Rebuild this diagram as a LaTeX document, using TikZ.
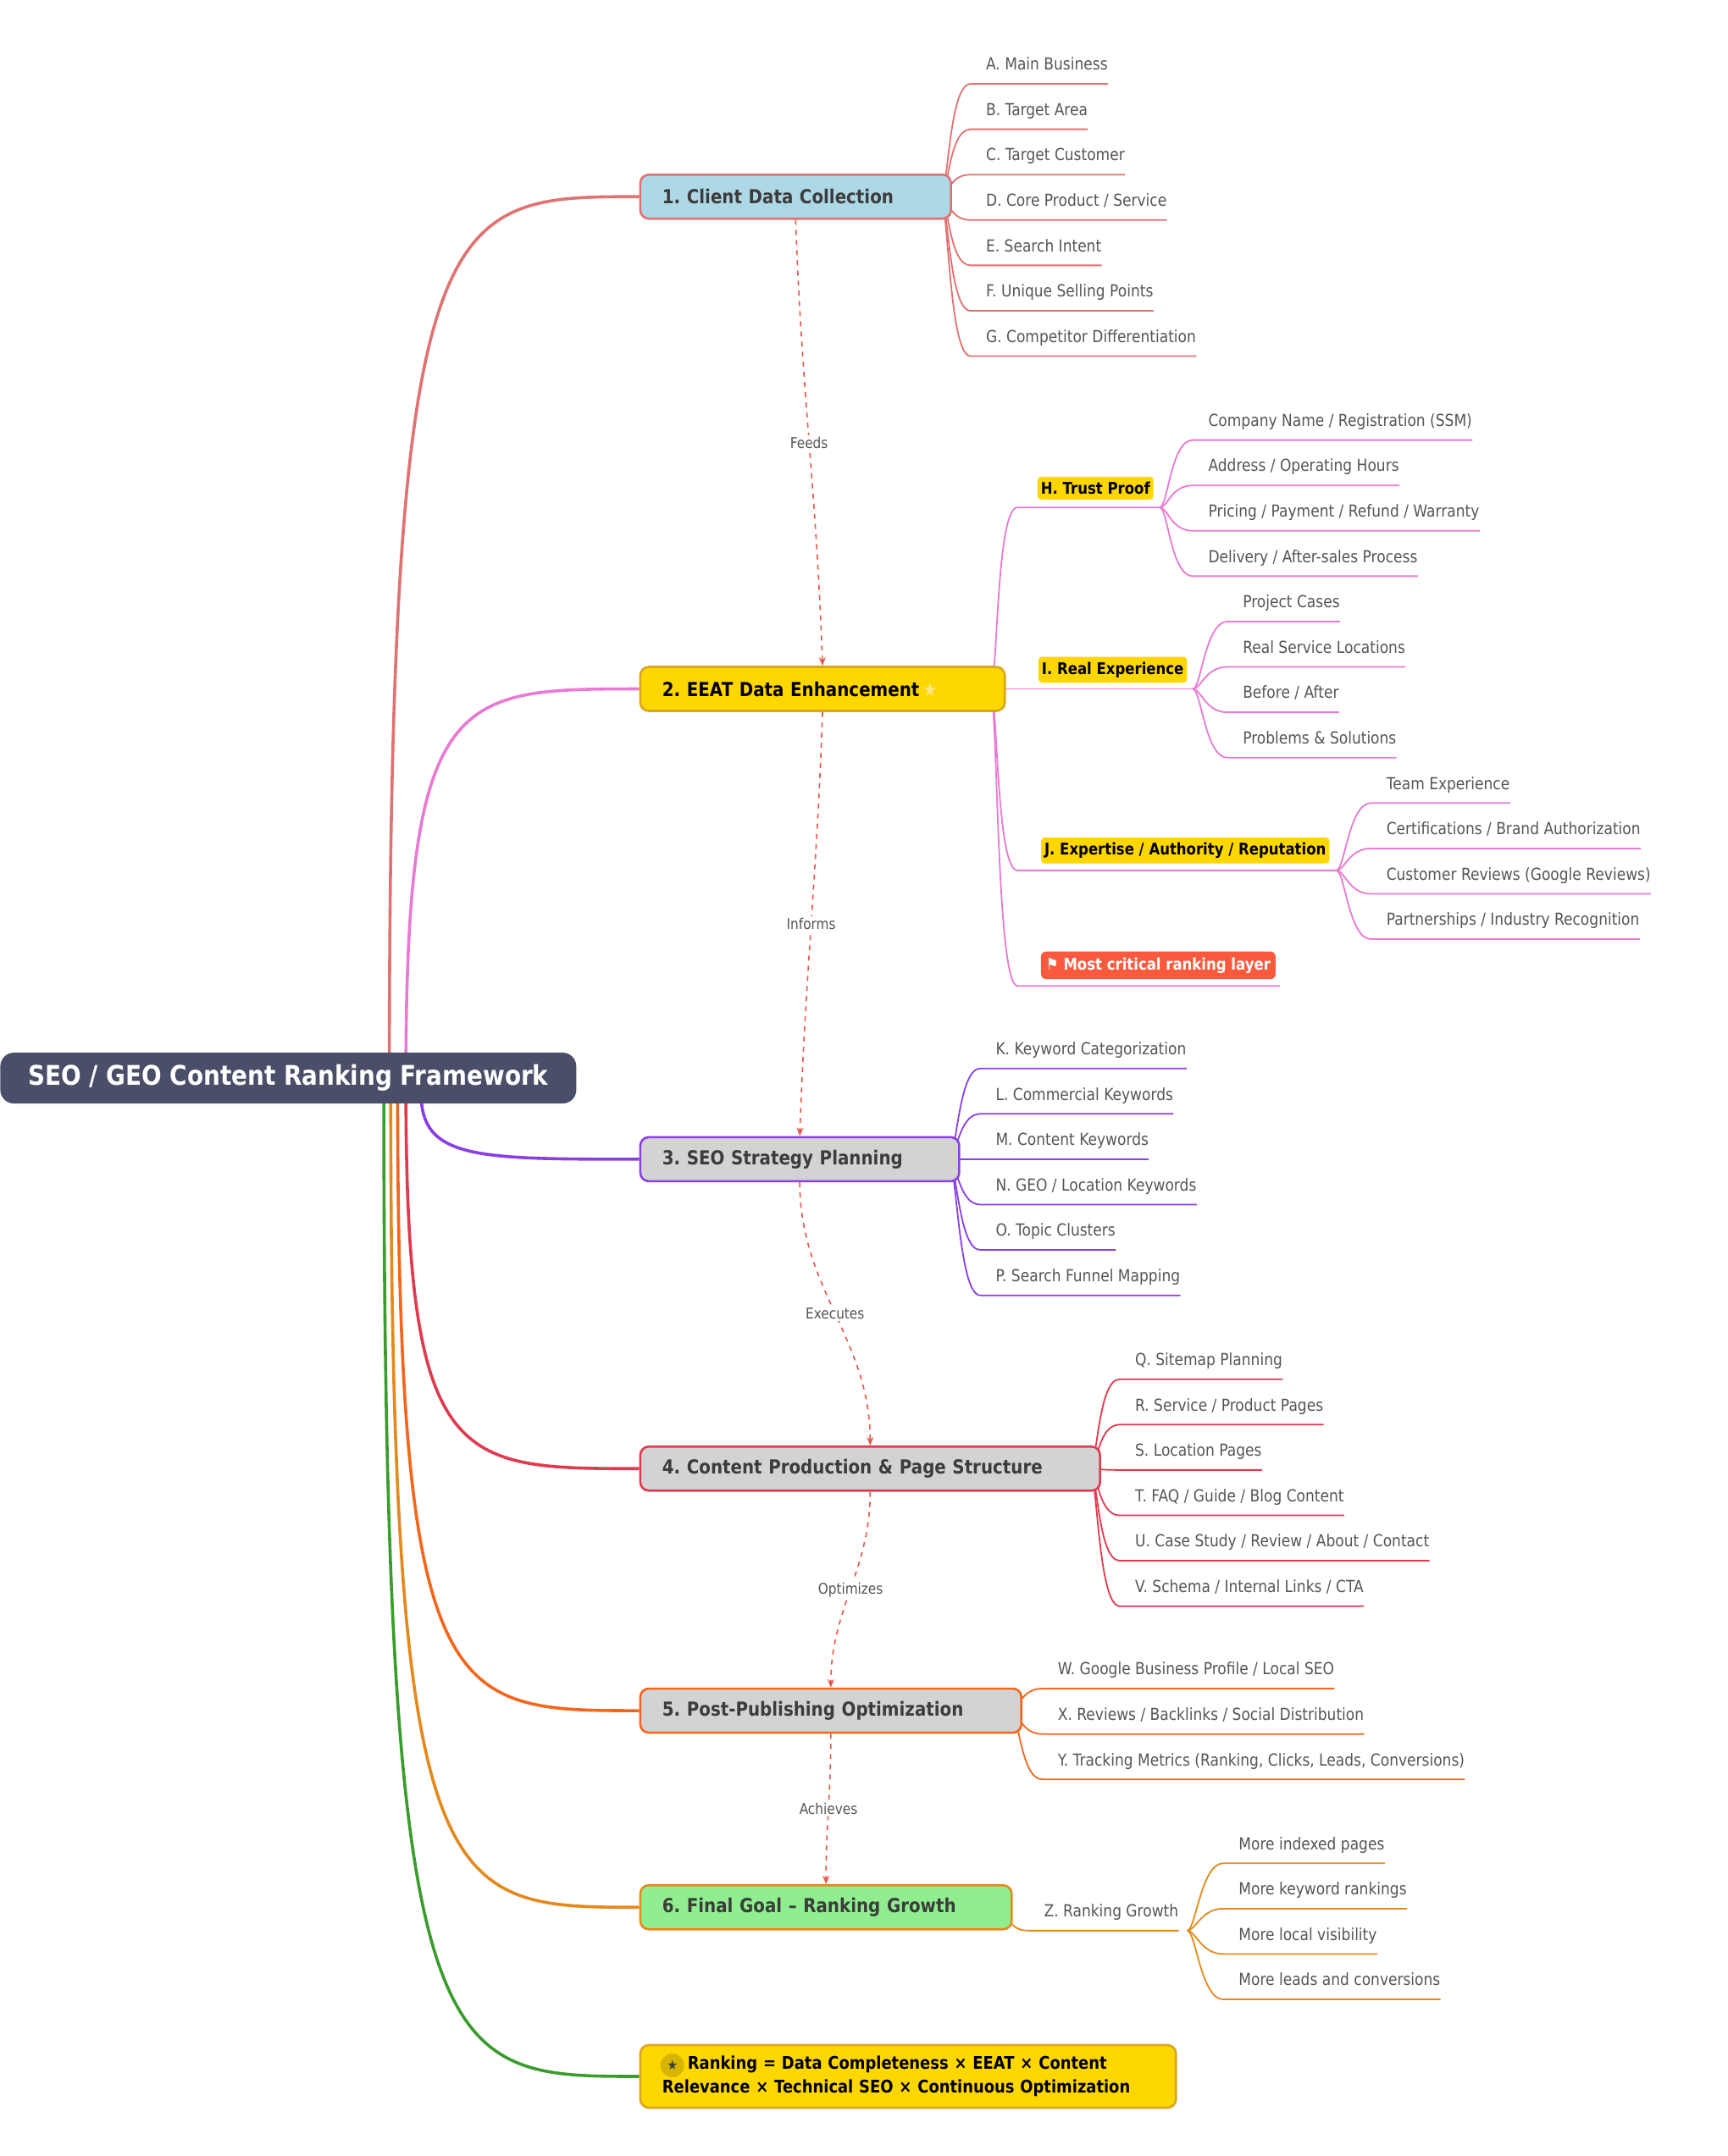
\documentclass[tikz,border=0pt]{standalone}
\usepackage{fontspec}
\setmainfont{DejaVu Sans}[FakeStretch=0.87]
\usetikzlibrary{calc,arrows.meta,backgrounds}
\frenchspacing
\definecolor{cA}{HTML}{E07272}
\definecolor{cB}{HTML}{E87AD3}
\definecolor{cC}{HTML}{8A3FE6}
\definecolor{cD}{HTML}{E03A4E}
\definecolor{cE}{HTML}{F5661C}
\definecolor{cF}{HTML}{E48A1C}
\definecolor{cG}{HTML}{3A9C2C}
\definecolor{fblue}{HTML}{ADD8E6}
\definecolor{fgold}{HTML}{FFD700}
\definecolor{bgold}{HTML}{DAA520}
\definecolor{fgray}{HTML}{D3D3D3}
\definecolor{fgreen}{HTML}{90EE90}
\definecolor{rootc}{HTML}{4A4E69}
\definecolor{flowred}{HTML}{E8574A}
\definecolor{crit}{HTML}{F95A3E}
\definecolor{leafgray}{HTML}{555555}
\definecolor{maintext}{HTML}{3C3C3C}
\tikzset{
 leaf/.style={font=\fontsize{9.8}{11}\selectfont, text=leafgray, inner sep=0pt},
 main/.style={rounded corners=5pt, line width=1.3pt, font=\fontsize{11.4}{13}\selectfont\bfseries, text=maintext, anchor=west, align=left, minimum height=26pt, inner xsep=13pt},
 branch/.style={line width=1.8pt},
 twig/.style={line width=0.9pt},
 flow/.style={dashed, color=flowred, line width=0.8pt, -{Stealth[length=5pt,width=4pt]}},
 flowlbl/.style={font=\fontsize{8.8}{10}\selectfont, text=leafgray, fill=white, inner sep=1pt},
 sub/.style={fill=fgold, rounded corners=2pt, font=\fontsize{9.5}{11}\selectfont\bfseries, inner xsep=2pt, inner ysep=3pt},
}
\newcommand\mnode[6]{\pgfmathsetmacro\mw{(#3-#2)*0.815}\pgfmathsetmacro\tw{\mw-26}%
 \node[main,#5,minimum width=\mw pt,text width=\tw pt] (#1) at (#2,#4) {#6};}
\newcommand\leaf[6]{%
 \node[leaf,anchor=base west] (#1) at ({#3+11},{#4-10}) {#5};
 \coordinate (#1u) at (#3,#4);
 \begin{scope}[on background layer]
 \draw[#6,twig] (#2) .. controls +(6,0) and +(-16,0) .. (#1u) -- (#1.base east |- #1u);
 \end{scope}}
\begin{document}
\begin{tikzpicture}[x=0.815pt,y=-0.812pt]
\useasboundingbox (0,0) rectangle (1251.5,1567.9);
% root
\node[rounded corners=8pt, fill=rootc, text=white, font=\fontsize{16}{18}\selectfont\bfseries, minimum width=340pt, minimum height=30pt, anchor=west] (root) at (0,784) {SEO / GEO Content Ranking Framework};
% main nodes
\mnode{n1}{463}{688}{143}{draw=cA,fill=fblue}{1. Client Data Collection}
\mnode{n2}{463}{727}{501}{draw=bgold,fill=fgold,text=black}{2. EEAT Data Enhancement{\color[HTML]{FFE680}\,★}}
\mnode{n3}{463}{694}{843}{draw=cC,fill=fgray}{3. SEO Strategy Planning}
\mnode{n4}{463}{796}{1068}{draw=cD,fill=fgray}{4. Content Production \& Page Structure}
\mnode{n5}{463}{739}{1244}{draw=cE,fill=fgray}{5. Post-Publishing Optimization}
\mnode{n6}{463}{732}{1387}{draw=cF,fill=fgreen}{6. Final Goal – Ranking Growth}
\node[main, draw=bgold, fill=fgold, text=black, font=\fontsize{10.3}{13.8}\selectfont\bfseries, minimum width=316.2pt, text width=290.2pt, minimum height=37pt] (n7) at (463,1510) {\hspace*{15pt}Ranking = Data Completeness × EEAT × Content\\Relevance × Technical SEO × Continuous Optimization};
\fill[color={rgb,255:red,214;green,180;blue,0}] (487,1502) circle (7pt);
\node[font=\fontsize{8}{9}\selectfont, text=maintext, inner sep=0pt] (star) at (487,1502) {★};
% branches
\coordinate (r1) at (282,784); \coordinate (r2) at (294,784); \coordinate (r3) at (305,795);
\coordinate (r4) at (294,790); \coordinate (r5) at (288,790); \coordinate (r6) at (283,790); \coordinate (r7) at (278,790);
\begin{scope}[on background layer]
\draw[branch,cA] (r1) .. controls (282,143) and (320,143) .. (n1.west);
\draw[branch,cB] (r2) .. controls (294,501) and (330,501) .. (n2.west);
\draw[branch,cC] (r3) .. controls (305,843) and (345,843) .. (n3.west);
\draw[branch,cD] (r4) .. controls (294,1068) and (330,1068) .. (n4.west);
\draw[branch,cE] (r5) .. controls (288,1244) and (325,1244) .. (n5.west);
\draw[branch,cF] (r6) .. controls (283,1387) and (320,1387) .. (n6.west);
\draw[branch,cG] (r7) .. controls (278,1510) and (315,1510) .. (n7.west);
\end{scope}
% flows
\draw[flow] (n1.south) to[out=-88,in=92] node[flowlbl]{Feeds} (n2.north);
\draw[flow] (n2.south) to[out=-92,in=88] node[flowlbl]{Informs} (n3.north);
\draw[flow] (n3.south) to[out=-90,in=90] node[flowlbl]{Executes} (n4.north);
\draw[flow] (n4.south) to[out=-90,in=90] node[flowlbl]{Optimizes} (n5.north);
\draw[flow] (n5.south) to[out=-90,in=90] node[flowlbl]{Achieves} (n6.north);
% branch 1 leaves
\coordinate (p1) at (681,143);
\leaf{a}{p1}{703}{61}{A. Main Business}{cA}
\leaf{b}{p1}{703}{94}{B. Target Area}{cA}
\leaf{c}{p1}{703}{127}{C. Target Customer}{cA}
\leaf{d}{p1}{703}{160}{D. Core Product / Service}{cA}
\leaf{e}{p1}{703}{193}{E. Search Intent}{cA}
\leaf{f}{p1}{703}{226}{F. Unique Selling Points}{cA}
\leaf{g}{p1}{703}{259}{G. Competitor Differentiation}{cA}
% branch 2
\coordinate (p2) at (717,501);
\node[sub] (H) at (793.5,355) {H. Trust Proof};
\node[sub] (I) at (806,487) {I. Real Experience};
\node[sub] (J) at (858.5,618.5) {J. Expertise / Authority / Reputation};
\node[fill=crit, rounded corners=3pt, text=white, font=\fontsize{9.5}{11}\selectfont\bfseries, inner xsep=3pt, inner ysep=3.5pt] (K) at (839,702) {⚑ Most critical ranking layer};
\coordinate (hE) at (840,369); \coordinate (iE) at (864,501); \coordinate (jE) at (968,633); \coordinate (kE) at (927,717);
\begin{scope}[on background layer]
\draw[cB,twig] (p2) .. controls +(6,0) and +(-16,0) .. (737,369) -- (hE);
\draw[cB,twig] (p2) -- (iE);
\draw[cB,twig] (p2) .. controls +(6,0) and +(-16,0) .. (737,633) -- (jE);
\draw[cB,twig] (p2) .. controls +(6,0) and +(-16,0) .. (737,717) -- (kE);
\end{scope}
\leaf{h1}{hE}{864}{320}{Company Name / Registration (SSM)}{cB}
\leaf{h2}{hE}{864}{353}{Address / Operating Hours}{cB}
\leaf{h3}{hE}{864}{386}{Pricing / Payment / Refund / Warranty}{cB}
\leaf{h4}{hE}{864}{419}{Delivery / After-sales Process}{cB}
\leaf{i1}{iE}{889}{452}{Project Cases}{cB}
\leaf{i2}{iE}{889}{485}{Real Service Locations}{cB}
\leaf{i3}{iE}{889}{518}{Before / After}{cB}
\leaf{i4}{iE}{889}{551}{Problems \& Solutions}{cB}
\leaf{j1}{jE}{993}{584}{Team Experience}{cB}
\leaf{j2}{jE}{993}{617}{Certifications / Brand Authorization}{cB}
\leaf{j3}{jE}{993}{650}{Customer Reviews (Google Reviews)}{cB}
\leaf{j4}{jE}{993}{683}{Partnerships / Industry Recognition}{cB}
% branch 3
\coordinate (p3) at (687,843);
\leaf{k}{p3}{710}{777}{K. Keyword Categorization}{cC}
\leaf{l}{p3}{710}{810}{L. Commercial Keywords}{cC}
\leaf{m}{p3}{710}{843}{M. Content Keywords}{cC}
\leaf{nn}{p3}{710}{876}{N. GEO / Location Keywords}{cC}
\leaf{o}{p3}{710}{909}{O. Topic Clusters}{cC}
\leaf{pp}{p3}{710}{942}{P. Search Funnel Mapping}{cC}
% branch 4
\coordinate (p4) at (789,1068);
\leaf{q}{p4}{811}{1003}{Q. Sitemap Planning}{cD}
\leaf{r}{p4}{811}{1036}{R. Service / Product Pages}{cD}
\leaf{s}{p4}{811}{1069}{S. Location Pages}{cD}
\leaf{t}{p4}{811}{1102}{T. FAQ / Guide / Blog Content}{cD}
\leaf{u}{p4}{811}{1135}{U. Case Study / Review / About / Contact}{cD}
\leaf{v}{p4}{811}{1168}{V. Schema / Internal Links / CTA}{cD}
% branch 5
\coordinate (p5) at (732,1244);
\leaf{w}{p5}{755}{1228}{W. Google Business Profile / Local SEO}{cE}
\leaf{x}{p5}{755}{1261}{X. Reviews / Backlinks / Social Distribution}{cE}
\leaf{y}{p5}{755}{1294}{Y. Tracking Metrics (Ranking, Clicks, Leads, Conversions)}{cE}
% branch 6
\coordinate (p6) at (725,1390);
\leaf{z}{p6}{745}{1404}{Z. Ranking Growth}{cF}
\coordinate (zE) at (860,1404);
\leaf{z1}{zE}{886}{1355}{More indexed pages}{cF}
\leaf{z2}{zE}{886}{1388}{More keyword rankings}{cF}
\leaf{z3}{zE}{886}{1421}{More local visibility}{cF}
\leaf{z4}{zE}{886}{1454}{More leads and conversions}{cF}
\end{tikzpicture}
\end{document}
